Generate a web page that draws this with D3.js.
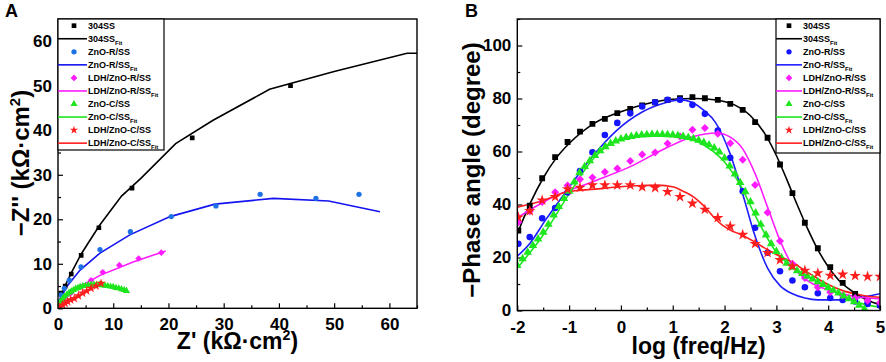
<!DOCTYPE html>
<html>
<head>
<meta charset="utf-8">
<script src="https://cdn.jsdelivr.net/npm/d3@7"></script>
<style>
  body { margin: 0; background: #fff; }
  svg text { font-family: "Liberation Sans", Arial, sans-serif; font-weight: bold; }
</style>
</head>
<body>
<svg id="chart" width="886" height="362"></svg>
<script>

// ---- panel A : Nyquist, [Z', -Z''] in kOhm.cm2 ----
var nyqSS = [[0.15,1.2],[0.5,3.4],[1.3,5.0],[2.4,7.7],[4.2,11.9],[7.4,18.1],[13.4,27.0],[24.3,38.3],[42.1,50.0]];
var nyqSSFit = [[0,0],[0.3,1.6],[0.8,3.6],[1.5,5.6],[2.5,8.2],[4.2,12.2],[7.5,18.6],[11.5,25.2],[15,29.2],[21.3,37],[28,42.2],[38.3,49.2],[50,53.2],[63.2,57.3],[65,57.3]];
var nyqZnoR = [[0.2,1.4],[0.55,3.0],[1.15,4.5],[2.05,6.3],[4.17,9.3],[7.6,13.2],[13.1,17.2],[20.5,20.6],[28.6,23.0],[36.6,25.6],[46.7,24.7],[54.5,25.6]];
var nyqZnoRFit = [[0,0],[0.4,2.2],[1.6,4.9],[4,8.6],[7.6,12.4],[13,16.5],[20.3,20.6],[28.4,23.4],[39,24.7],[49,24.1],[58.3,21.7]];
var nyqLdhR = [[0.3,0.9],[1.0,2.0],[2.3,3.4],[4.17,4.85],[5.98,6.3],[8.1,8.1],[11.1,9.7],[14.6,11.2],[18.7,12.5]];
var nyqLdhRFit = [[0,0.3],[1,1.9],[2.2,3.2],[4,4.9],[7.6,7.4],[13.6,10.4],[19.5,12.9]];
var nyqZnoC = [[0.1,0.6],[0.3,1.2],[0.6,1.8],[0.9,2.3],[1.2,2.7],[1.6,3.1],[2.0,3.5],[2.4,3.8],[2.8,4.1],[3.2,4.4],[3.6,4.6],[4.0,4.8],[4.5,5.0],[5.0,5.1],[5.5,5.2],[6.0,5.3],[6.5,5.3],[7.0,5.3],[7.5,5.3],[8.0,5.2],[8.5,5.1],[9.0,5.0],[9.5,4.9],[10.0,4.8],[10.5,4.6],[11.0,4.5],[11.5,4.3],[12.0,4.1],[12.4,3.9]];
var nyqZnoCFit = [[0,0],[0.5,1.6],[1.5,3.0],[3,4.2],[5,5.0],[7,5.3],[9,5.1],[11,4.5],[12.3,3.8]];
var nyqLdhC = [[0.24,0.2],[0.85,0.74],[1.3,1.1],[1.75,1.5],[2.3,1.9],[2.95,2.2],[3.7,2.8],[4.47,3.4],[5.2,3.9],[5.98,4.5],[6.9,5.0],[7.8,5.6]];
var nyqLdhCFit = [[0,0],[1,0.9],[2,1.7],[3,2.4],[4.5,3.4],[6,4.5],[7,5.2],[7.9,5.9]];

// ---- panel B : Bode phase ----
var logFreq = [-1.98,-1.76,-1.52,-1.27,-1.03,-0.79,-0.55,-0.31,-0.07,0.18,0.41,0.66,0.90,1.14,1.38,1.62,1.87,2.11,2.35,2.59,2.83,3.07,3.31,3.55,3.80,4.04,4.28,4.52,4.76,5.0];
var phaseSS   = [30.2,39.6,49.9,57.9,63.6,67.5,70.4,72.3,74.5,76.1,77.4,78.6,79.5,80.1,80.5,80.1,79.5,78.0,75.7,71.1,65.2,55.1,44.3,33.1,23.5,16.4,10.4,6.3,3.4,2.0];
var phaseZnoR = [25.2,27.7,34.8,38.7,44.5,52.6,59.7,66.2,70.8,74.4,77.0,78.6,79.5,79.5,77.6,74.2,67.9,57.6,45.0,31.2,21.8,14.8,11.3,8.8,6.5,4.7,4.0,3.4,2.5,1.9];
var phaseLdhR = [33.3,37.5,40.9,44.6,47.2,49.5,50.2,52.3,53.6,56.4,58.9,59.6,63.0,65.7,68.2,68.9,66.7,63.1,56.9,47.4,37.0,26.2,17.6,12.3,8.8,6.9,5.7,4.7,3.8,2.9];
var phaseLdhC = [35.2,37.6,41.6,42.9,45.8,46.4,47.3,47.3,47.3,47.3,46.6,46.3,44.8,42.9,40.4,38.1,35.0,31.8,28.6,25.2,21.8,19.1,16.7,15.1,14.1,13.2,13.6,13.1,12.8,12.8];
var phaseZnoC = [[-2.0,17],[-1.9,19.5],[-1.8,22],[-1.7,24.5],[-1.6,27],[-1.5,29.5],[-1.4,32.5],[-1.3,36],[-1.2,39.2],[-1.1,42.3],[-1.0,45],[-0.9,48.5],[-0.8,52],[-0.7,54.3],[-0.6,56.5],[-0.5,58.5],[-0.4,60.3],[-0.3,61.8],[-0.2,63],[-0.1,64],[0.0,64.7],[0.1,65.3],[0.2,65.7],[0.3,66],[0.4,66.2],[0.5,66.3],[0.6,66.4],[0.7,66.4],[0.8,66.4],[0.9,66.3],[1.0,66.2],[1.1,66.0],[1.2,65.7],[1.3,65.3],[1.4,64.8],[1.5,64.2],[1.6,63.4],[1.7,62.5],[1.8,61.3],[1.9,59.8],[2.0,57.5],[2.1,54.5],[2.2,51.5],[2.3,48.3],[2.4,44.8],[2.5,41],[2.6,36.8],[2.7,32.5],[2.8,28.5],[2.9,25.2],[3.0,22.3],[3.1,19.8],[3.2,17.8],[3.3,16.3],[3.4,15.0],[3.5,14.0],[3.6,12.9],[3.7,11.9],[3.8,10.8],[3.9,9.8],[4.0,8.6],[4.1,7.6],[4.2,6.6],[4.3,5.5],[4.4,4.4],[4.5,3.3],[4.6,2.0],[4.7,0.6]];
var phaseSSFit = [[-2,29],[-1.75,40.5],[-1.5,50],[-1.25,57.5],[-1,63],[-0.5,70.8],[0,75],[0.5,78],[1,79.7],[1.4,80],[1.8,79.5],[2.2,77.5],[2.5,73.5],[2.8,66],[3.0,58.5],[3.2,49.5],[3.4,40],[3.6,31],[3.8,23],[4.0,16.5],[4.2,11.5],[4.5,6.8],[4.8,3.5],[5,2.2]];
var phaseZnoRFit = [[-2,20.5],[-1.75,25.5],[-1.46,34],[-1.04,45.4],[-0.56,57.9],[-0.08,68],[0.41,74.9],[0.89,78.6],[1.14,79.5],[1.37,78.6],[1.6,75.5],[1.82,71.1],[2.11,59],[2.35,44],[2.59,28],[2.83,16],[3.07,9.4],[3.31,6.3],[3.55,4.7],[3.8,4.0],[4.28,4.0],[4.5,4.6],[4.76,5.4],[5,6.3]];
var phaseLdhRFit = [[-2,35],[-1.3,42.9],[-0.56,48.5],[0.17,54.2],[0.89,61.5],[1.37,65.5],[1.86,67],[2.11,65.4],[2.35,61],[2.59,51.6],[2.83,39],[3.07,26.4],[3.31,17],[3.55,12],[4.04,7.5],[4.52,5.3],[5,4.4]];
var phaseZnoCFit = [[-2,16],[-1.5,28.5],[-1,44],[-0.5,58],[0,64.5],[0.5,66],[1,66],[1.5,63.5],[2,56],[2.3,47.5],[2.6,35.5],[3,22],[3.3,16.5],[3.6,13],[4,8.5],[4.5,3.5],[5,1.2]];
var phaseLdhCFit = [[-2,39],[-1.5,41.5],[-1.04,44.8],[-0.5,45.8],[-0.08,46.6],[0.3,47.1],[0.7,47.3],[1.02,46.6],[1.2,45],[1.4,42.9],[1.6,39.5],[1.8,35],[1.95,32.3],[2.11,30.4],[2.35,28.3],[2.59,25.8],[2.83,22.9],[3.07,20.4],[3.31,18.2],[3.55,15.1],[3.8,12],[4.04,9.4],[4.28,7.5],[4.52,6.3],[4.76,5.4],[5,5.0]];

var seriesNames = ["304SS", "ZnO-R/SS", "LDH/ZnO-R/SS", "ZnO-C/SS", "LDH/ZnO-C/SS"];
// diamond = square turned 45 degrees
var symbolTypes = [d3.symbolSquare, d3.symbolCircle, d3.symbolSquare, d3.symbolTriangle, d3.symbolStar];
var symbolRot = [0, 0, 45, 0, 0];

var svg = d3.select("#chart");

function zipPhase(ys){ return logFreq.map(function(f, i){ return [f, ys[i]]; }); }
function plainNum(d){ return String(d); }

function drawPanel(p){
    var x = d3.scaleLinear().domain(p.xDom).range([p.left, p.right]);
    var y = d3.scaleLinear().domain(p.yDom).range([p.bottom, p.top]);
    var g = svg.append("g");

    g.append("clipPath").attr("id", p.id + "_clip")
        .append("rect").attr("x", p.left).attr("y", p.top)
        .attr("width", p.right - p.left).attr("height", p.bottom - p.top);

    // ticks, inward, left + bottom only
    var xAx = g.append("g").attr("transform", "translate(0," + p.bottom + ")")
        .call(d3.axisBottom(x).tickValues(p.xTicks).tickFormat(plainNum).tickSizeInner(-5).tickSizeOuter(0).tickPadding(10));
    g.append("g").attr("transform", "translate(0," + p.bottom + ")")
        .call(d3.axisBottom(x).tickValues(p.xMinor).tickSizeInner(-3).tickSizeOuter(0).tickFormat(""));
    g.append("g").attr("transform", "translate(" + p.left + ",0)")
        .call(d3.axisLeft(y).tickValues(p.yTicks).tickFormat(plainNum).tickSizeInner(-5).tickSizeOuter(0).tickPadding(6));
    g.append("g").attr("transform", "translate(" + p.left + ",0)")
        .call(d3.axisLeft(y).tickValues(p.yMinor).tickSizeInner(-3).tickSizeOuter(0).tickFormat(""));
    g.selectAll(".domain").remove();
    g.selectAll(".tick line").attr("stroke", "#000").attr("stroke-width", 1.2);
    g.selectAll(".tick text").attr("font-size", "17px").attr("fill", "#000");
    xAx.selectAll(".tick text").attr("dy", "0.71em");

    var plot = g.append("g").attr("clip-path", "url(#" + p.id + "_clip)");
    var line = d3.line().x(function(d){ return x(d[0]); }).y(function(d){ return y(d[1]); })
        .curve(p.curve);

    p.series.forEach(function(s){
        plot.append("path").datum(s.fit)
            .attr("d", line).attr("fill", "none")
            .attr("stroke", s.lineColor).attr("stroke-width", 1.6);
    });
    p.series.forEach(function(s, i){
        plot.selectAll(".pt" + i).data(s.pts).enter().append("path")
            .attr("transform", function(d){ return "translate(" + x(d[0]) + "," + y(d[1]) + ") rotate(" + symbolRot[i] + ")"; })
            .attr("d", d3.symbol().type(symbolTypes[i]).size(p.symSizes[i]))
            .attr("fill", s.dotColor);
    });

    g.append("rect").attr("x", p.left).attr("y", p.top)
        .attr("width", p.right - p.left).attr("height", p.bottom - p.top)
        .attr("fill", "none").attr("stroke", "#000").attr("stroke-width", 1.4);

    // legend
    var lg = g.append("g");
    lg.append("rect").attr("x", p.lgX0).attr("y", p.top).attr("width", p.lgX1 - p.lgX0).attr("height", p.lgBottom - p.top)
        .attr("fill", "#fff").attr("stroke", "#000").attr("stroke-width", 1.2);
    p.series.forEach(function(s, i){
        var yr = p.top + 6.7 + i * 2 * 13.05;
        lg.append("path").attr("transform", "translate(" + p.lgSym + "," + yr + ") rotate(" + symbolRot[i] + ")")
            .attr("d", d3.symbol().type(symbolTypes[i]).size(22)).attr("fill", s.dotColor);
        lg.append("text").attr("x", p.lgText).attr("y", yr).attr("dy", "0.35em")
            .attr("font-size", "9px").text(seriesNames[i]);
        var yf = yr + 13.05;
        lg.append("line").attr("x1", p.lgX0).attr("x2", p.lgText - 1).attr("y1", yf).attr("y2", yf)
            .attr("stroke", s.lineColor).attr("stroke-width", 1.6);
        var t = lg.append("text").attr("x", p.lgText).attr("y", yf).attr("dy", "0.35em").attr("font-size", "9px");
        t.append("tspan").text(seriesNames[i]);
        t.append("tspan").attr("font-size", "6px").attr("dy", "3").text("Fit");
    });

    // titles
    var xt = g.append("text").attr("x", (p.left + p.right) / 2).attr("y", p.xTitleY)
        .attr("text-anchor", "middle").attr("font-size", "23px");
    p.xTitle(xt);
    var yt = g.append("text").attr("transform", "translate(" + p.yTitleX + "," + p.yTitleC + ") rotate(-90)")
        .attr("text-anchor", "middle").attr("font-size", "24px");
    p.yTitle(yt);
    g.append("text").attr("x", p.letterX).attr("y", 17).attr("font-size", "18px").text(p.letter);
}

function kOhm(t, prefix){
    t.append("tspan").text(prefix + " (k\u03A9\u00B7cm");
    t.append("tspan").attr("font-size", "0.62em").attr("dy", "-0.6em").text("2");
    t.append("tspan").attr("dy", "0.37em").text(")");
}

drawPanel({
    id: "A", letter: "A", letterX: 5,
    left: 58, right: 417, top: 19, bottom: 308.3,
    xDom: [0, 65], yDom: [0, 65],
    xTicks: [0,10,20,30,40,50,60], xMinor: [5,15,25,35,45,55,65],
    yTicks: [0,10,20,30,40,50,60], yMinor: [5,15,25,35,45,55,65],
    curve: d3.curveLinear,
    symSizes: [22, 22, 22, 22, 28],
    lgX0: 58, lgX1: 164, lgBottom: 150, lgSym: 74, lgText: 88,
    xTitleY: 349, yTitleX: 29, yTitleC: 163,
    xTitle: function(t){ kOhm(t, "Z'"); },
    yTitle: function(t){ kOhm(t, "\u2212Z''"); },
    series: [
        {pts: nyqSS, fit: nyqSSFit, dotColor: "#000", lineColor: "#000"},
        {pts: nyqZnoR, fit: nyqZnoRFit, dotColor: "#1f72e6", lineColor: "#1414f0"},
        {pts: nyqLdhR, fit: nyqLdhRFit, dotColor: "#ff1aff", lineColor: "#ff1aff"},
        {pts: nyqZnoC, fit: nyqZnoCFit, dotColor: "#1ee61e", lineColor: "#1ee61e"},
        {pts: nyqLdhC, fit: nyqLdhCFit, dotColor: "#ff1e1e", lineColor: "#ff1e1e"}
    ]
});

drawPanel({
    id: "B", letter: "B", letterX: 465,
    left: 517.3, right: 880, top: 19, bottom: 310.5,
    xDom: [-2, 5], yDom: [0, 110],
    xTicks: [-2,-1,0,1,2,3,4,5], xMinor: [-1.5,-0.5,0.5,1.5,2.5,3.5,4.5],
    yTicks: [0,20,40,60,80,100], yMinor: [10,30,50,70,90,110],
    curve: d3.curveMonotoneX,
    symSizes: [34, 34, 32, 32, 40],
    lgX0: 776, lgX1: 880, lgBottom: 153, lgSym: 789, lgText: 803,
    xTitleY: 354, yTitleX: 480, yTitleC: 170,
    xTitle: function(t){ t.text("log (freq/Hz)"); },
    yTitle: function(t){ t.text("\u2212Phase angle (degree)"); },
    series: [
        {pts: zipPhase(phaseSS), fit: phaseSSFit, dotColor: "#000", lineColor: "#000"},
        {pts: zipPhase(phaseZnoR), fit: phaseZnoRFit, dotColor: "#1414ff", lineColor: "#1e1eff"},
        {pts: zipPhase(phaseLdhR), fit: phaseLdhRFit, dotColor: "#ff1aff", lineColor: "#ff1aff"},
        {pts: phaseZnoC, fit: phaseZnoCFit, dotColor: "#1ee61e", lineColor: "#1ee61e"},
        {pts: zipPhase(phaseLdhC), fit: phaseLdhCFit, dotColor: "#ff1e1e", lineColor: "#ff1e1e"}
    ]
});

</script>
</body>
</html>
